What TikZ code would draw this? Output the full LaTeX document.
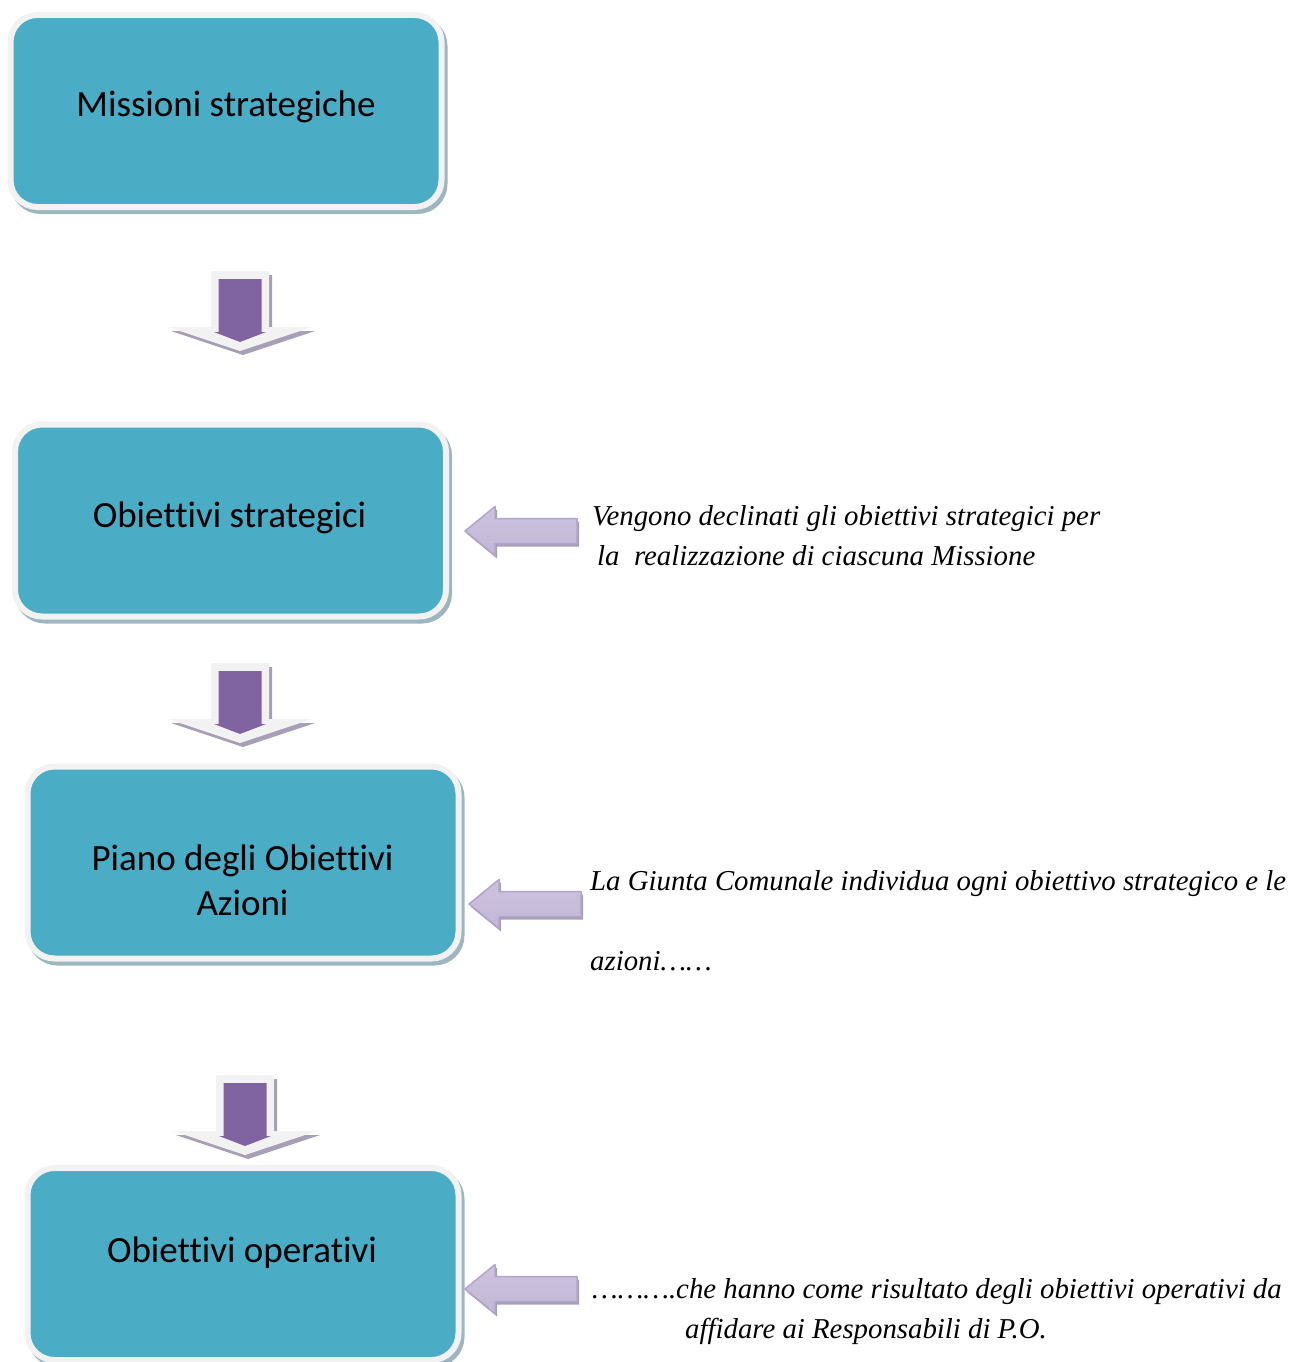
\documentclass[tikz,border=0pt]{standalone}
\usepackage{fontspec}
\setmainfont{Liberation Serif}
\newfontfamily\boxfont[Ligatures=NoCommon]{Carlito}

\definecolor{acqua}{HTML}{4BACC6}
\definecolor{bordo}{HTML}{F2F2F2}
\definecolor{ombrab}{HTML}{9EB6C0}
\definecolor{viola}{HTML}{8064A2}
\definecolor{ombraf}{HTML}{A79FB6}
\definecolor{lillaA}{HTML}{CDC3DE}
\definecolor{lillaB}{HTML}{EFECF5}
\definecolor{lillaC}{HTML}{C2B6D6}
\definecolor{lillabordo}{HTML}{B3A4CA}

\begin{document}
\begin{tikzpicture}[x=1pt,y=-1pt,
  blocco/.style={rounded corners=27pt,fill=acqua,draw=bordo,line width=6pt,
    minimum width=431pt,minimum height=192pt,inner sep=0pt},
  etichetta/.style={font=\boxfont\fontsize{37}{45}\selectfont,align=center,anchor=base,inner sep=0pt},
  testo/.style={font=\fontsize{28.8}{40}\selectfont\itshape,align=left,anchor=base west,inner sep=0pt}]
\useasboundingbox (0,0) rectangle (1293,1362);

% riquadri
\foreach \n/\cx/\cy in {m1/226/111,m2/230.5/520.5,m3/243/862.5,m4/243/1264}{
  \node[blocco,fill=ombrab,draw=ombrab] at (\cx+3,\cy+4) {};
  \node[blocco] (\n) at (\cx,\cy) {};
}
\node[etichetta] (e1) at (226,117) {Missioni strategiche};
\node[etichetta] (e2) at (229.5,527) {Obiettivi strategici};
\node[etichetta] (e3) at (242.5,915) {Piano degli Obiettivi\\Azioni};
\node[etichetta] (e4) at (242,1262) {Obiettivi operativi};

% frecce verso il basso
\foreach \cx/\ty in {240/271,240/663,245/1075}{
  \begin{scope}[shift={(\cx,\ty)}]
    \fill[ombraf] (-26,4) -- (32,4) -- (32,60) -- (75,60) -- (3,84) -- (-69,60) -- (-26,60) -- cycle;
    \fill[bordo] (-29,0) -- (29,0) -- (29,56) -- (72,56) -- (0,80) -- (-72,56) -- (-29,56) -- cycle;
    \fill[viola] (-21.5,8) -- (21.5,8) -- (21.5,61) -- (26,61) -- (0,71) -- (-26,61) -- (-21.5,61) -- cycle;
  \end{scope}
}

% frecce verso sinistra
\foreach \tx/\ty in {465/531,469/904,465/1289}{
  \begin{scope}[shift={(\tx,\ty)}]
    \fill[ombraf] (2,3) -- (32,-21.5) -- (32,-9.5) -- (114,-9.5) -- (114,15.5) -- (32,15.5) -- (32,27.5) -- cycle;
    \draw[top color=lillaA,middle color=lillaB,bottom color=lillaC,draw=lillabordo,line width=1.5pt,line join=round]
      (0,0) -- (30,-24.5) -- (30,-12.5) -- (112,-12.5) -- (112,12.5) -- (30,12.5) -- (30,24.5) -- cycle;
  \end{scope}
}

% testi
\node[testo] (n1) at (592,565) {Vengono declinati gli obiettivi strategici per\\
  \hspace*{5pt}la\ \ realizzazione di ciascuna Missione};
\node[testo] (n2) at (590,970) {La Giunta Comunale individua ogni obiettivo strategico e le\\[40pt]
  azioni……};
\node[testo] (n3) at (592,1338) {……….che hanno come risultato degli obiettivi operativi da\\
  \hspace*{93pt}affidare ai Responsabili di P.O.};
\end{tikzpicture}
\end{document}
